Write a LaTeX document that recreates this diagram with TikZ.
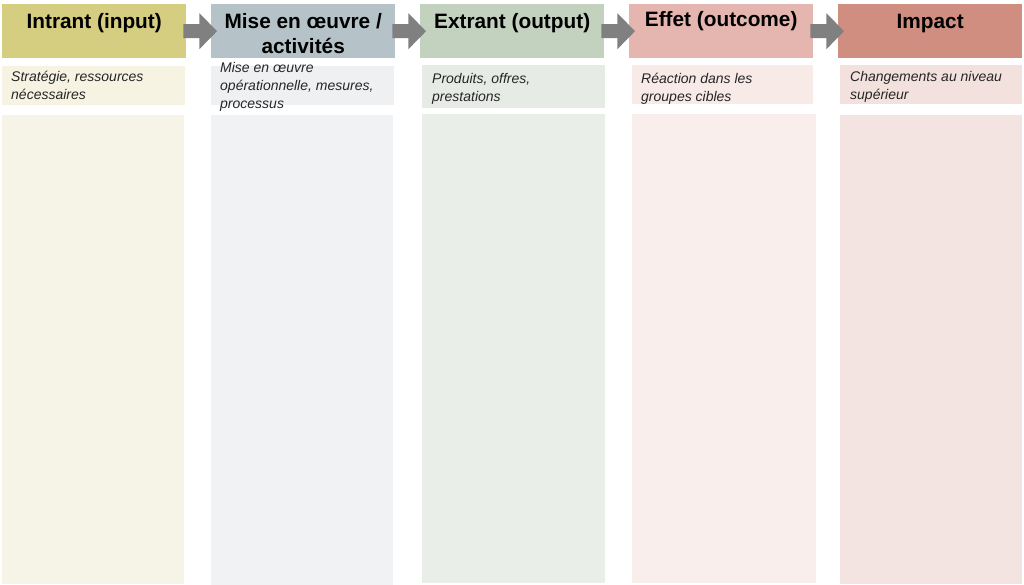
\documentclass[tikz,border=0pt]{standalone}
\usepackage{fontspec}
\setmainfont{Liberation Sans}
\usetikzlibrary{calc}
\definecolor{hA}{HTML}{D5CD80}
\definecolor{hB}{HTML}{B5C3C9}
\definecolor{hC}{HTML}{C3D1BF}
\definecolor{hD}{HTML}{E4B6AF}
\definecolor{hE}{HTML}{D08E80}
\definecolor{dA}{HTML}{F6F3E3}
\definecolor{dB}{HTML}{EEF0F2}
\definecolor{dC}{HTML}{E6ECE5}
\definecolor{dD}{HTML}{F8EAE7}
\definecolor{dE}{HTML}{F2E1DD}
\definecolor{bA}{HTML}{F6F4E6}
\definecolor{bB}{HTML}{F1F2F4}
\definecolor{bC}{HTML}{E9EEE8}
\definecolor{bD}{HTML}{F9EEEC}
\definecolor{bE}{HTML}{F3E4E1}
\definecolor{arr}{HTML}{808080}
\tikzset{
  hdr/.style={rectangle, inner sep=0pt, minimum width=184pt, minimum height=54pt, anchor=north west},
  hdrtext/.style={font=\bfseries\fontsize{20.8}{25}\selectfont, align=center, inner sep=0pt, text=black},
  desc/.style={rectangle, inner sep=0pt, anchor=north west},
  desctext/.style={font=\itshape\fontsize{14}{18}\selectfont, align=left, inner sep=0pt, anchor=north west, text=black!85},
  big/.style={rectangle, inner sep=0pt, anchor=north west}
}
\newcommand{\blockarrow}[2]{%
  \fill[arr] ($(#1.east)+(-3,7)$) -- ($(#1.east)+(13,7)$) -- ($(#1.east)+(13,18)$)
    -- ($(#2.west)+(6,0)$) -- ($(#1.east)+(13,-18)$) -- ($(#1.east)+(13,-7)$)
    -- ($(#1.east)+(-3,-7)$) -- cycle;}
\begin{document}
\begin{tikzpicture}[x=1pt,y=-1pt]
\useasboundingbox (0,0) rectangle (1024,585);
% headers
\node[hdr, fill=hA] (h1) at (2,4) {};
\node[hdr, fill=hB] (h2) at (211,4) {};
\node[hdr, fill=hC] (h3) at (420,4) {};
\node[hdr, fill=hD] (h4) at (629,4) {};
\node[hdr, fill=hE] (h5) at (838,4) {};
% description boxes
\node[desc, fill=dA, minimum width=183pt, minimum height=39pt] (d1) at (2,66) {};
\node[desc, fill=dB, minimum width=183pt, minimum height=39pt] (d2) at (211,66) {};
\node[desc, fill=dC, minimum width=183pt, minimum height=43pt] (d3) at (422,65) {};
\node[desc, fill=dD, minimum width=181pt, minimum height=39pt] (d4) at (632,65) {};
\node[desc, fill=dE, minimum width=182pt, minimum height=39pt] (d5) at (840,65) {};
% big boxes
\node[big, fill=bA, minimum width=182pt, minimum height=469pt] (b1) at (2,115) {};
\node[big, fill=bB, minimum width=182pt, minimum height=470pt] (b2) at (211,115) {};
\node[big, fill=bC, minimum width=183pt, minimum height=469pt] (b3) at (422,114) {};
\node[big, fill=bD, minimum width=184pt, minimum height=469pt] (b4) at (632,114) {};
\node[big, fill=bE, minimum width=182pt, minimum height=469pt] (b5) at (840,115) {};
% arrows
\blockarrow{h1}{h2}
\blockarrow{h2}{h3}
\blockarrow{h3}{h4}
\blockarrow{h4}{h5}
% header texts
\node[hdrtext] (t1) at ($(h1.north)+(0,19)$) {Intrant (input)};
\node[hdrtext] (t2) at ($(h2.north)+(0,30)$) {Mise en œuvre /\\activités};
\node[hdrtext] (t3) at ($(h3.north)+(0,19)$) {Extrant (output)};
\node[hdrtext] (t4) at ($(h4.north)+(0,17)$) {Effet (outcome)};
\node[hdrtext] (t5) at ($(h5.north)+(0,20)$) {Impact};
% description texts
\node[desctext] (s1) at (11,71) {Stratégie, ressources\\nécessaires};
\node[desctext] (s2) at (220,62) {Mise en œuvre\\opérationnelle, mesures,\\processus};
\node[desctext] (s3) at (432,73) {Produits, offres,\\prestations};
\node[desctext] (s4) at (641,73) {Réaction dans les\\groupes cibles};
\node[desctext] (s5) at (850,71) {Changements au niveau\\supérieur};
\end{tikzpicture}
\end{document}
